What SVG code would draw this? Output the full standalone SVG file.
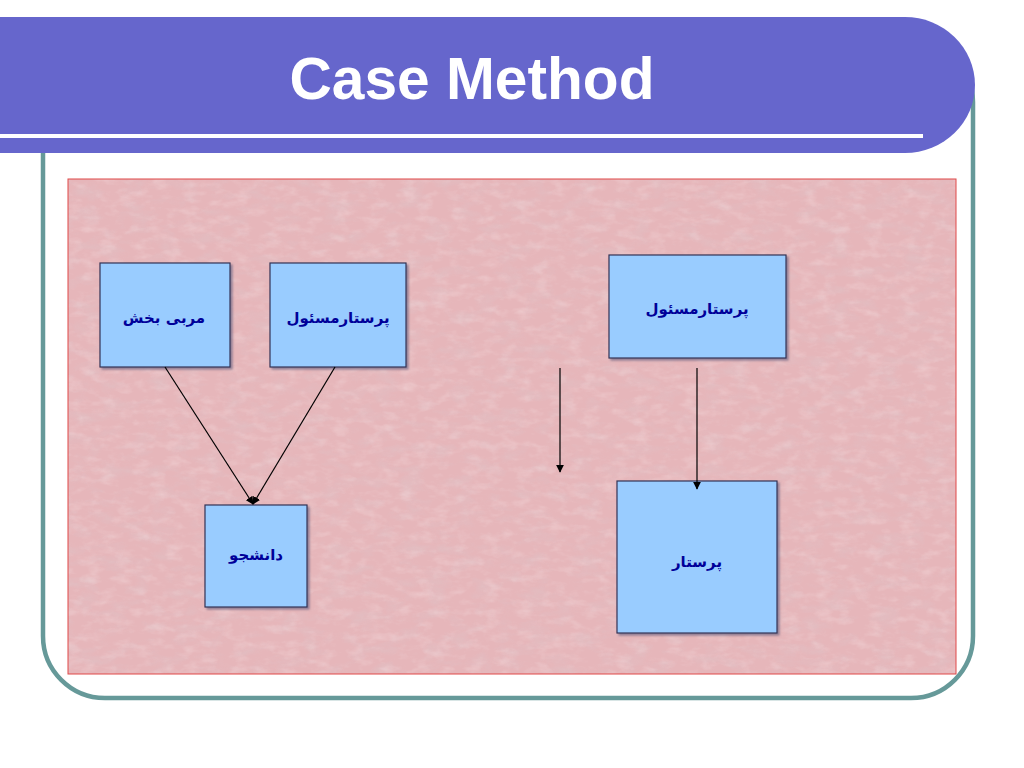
<svg xmlns="http://www.w3.org/2000/svg" width="1024" height="768" viewBox="0 0 1024 768">
<defs>
<style>
.box{fill:#99CCFF;stroke:#333355;stroke-width:1.2}
.lbl{font-family:"DejaVu Sans",sans-serif;font-weight:bold;font-size:15px;fill:#000099;text-anchor:middle}
.conn{stroke:#000;stroke-width:1.2;fill:none;marker-end:url(#ah)}
</style>
<marker id="ah" viewBox="0 0 10 10" refX="9" refY="5" markerWidth="8" markerHeight="8" orient="auto" markerUnits="userSpaceOnUse">
<path d="M0,0 L10,5 L0,10 z" fill="#000"/>
</marker>
<filter id="tex" x="0" y="0" width="100%" height="100%">
<feTurbulence type="fractalNoise" baseFrequency="0.04 0.09" numOctaves="4" seed="4" result="n"/>
<feColorMatrix in="n" type="matrix" values="0 0 0 0 0.74  0 0 0 0 0.55  0 0 0 0 0.58  0 0 0 1.8 -0.8" result="c"/>
<feComposite in="c" in2="SourceGraphic" operator="in"/>
</filter>
<filter id="tex2" x="0" y="0" width="100%" height="100%">
<feTurbulence type="fractalNoise" baseFrequency="0.06 0.12" numOctaves="3" seed="9" result="n"/>
<feColorMatrix in="n" type="matrix" values="0 0 0 0 0.96  0 0 0 0 0.84  0 0 0 0 0.85  0 0 0 1.6 -0.75" result="c"/>
<feComposite in="c" in2="SourceGraphic" operator="in"/>
</filter>
<filter id="sh" x="-10%" y="-10%" width="130%" height="130%">
<feDropShadow dx="2" dy="2" stdDeviation="1" flood-color="#555577" flood-opacity="0.6"/>
</filter>
</defs>
<rect width="1024" height="768" fill="#ffffff"/>
<!-- teal frame -->
<rect x="43" y="40" width="930" height="658" rx="62" ry="62" fill="none" stroke="#669999" stroke-width="4.5"/>
<!-- title bar -->
<path d="M0,17 H905 A70,68 0 0 1 905,153 H0 Z" fill="#6666CC"/>
<rect x="0" y="134" width="923" height="4" fill="#ffffff"/>
<text x="472" y="99" font-family="Liberation Sans, Arial, sans-serif" font-weight="bold" font-size="60" fill="#ffffff" text-anchor="middle" textLength="365" lengthAdjust="spacingAndGlyphs">Case Method</text>
<!-- pink panel -->
<rect x="68" y="179" width="888" height="495" fill="#E6B6BA"/>
<rect x="68" y="179" width="888" height="495" fill="#E6B6BA" filter="url(#tex)" opacity="0.6"/>
<rect x="68" y="179" width="888" height="495" fill="#E6B6BA" filter="url(#tex2)" opacity="0.4"/>
<rect x="68" y="179" width="888" height="495" fill="none" stroke="#E04848" stroke-width="1"/>
<g id="n1"><rect class="box" x="100" y="263" width="130" height="104" filter="url(#sh)"/><text class="lbl" x="164" y="323">مربی بخش</text></g>
<g id="n2"><rect class="box" x="270" y="263" width="136" height="104" filter="url(#sh)"/><text class="lbl" x="338" y="323">پرستارمسئول</text></g>
<g id="n3"><rect class="box" x="205" y="505" width="102" height="102" filter="url(#sh)"/><text class="lbl" x="256" y="560">دانشجو</text></g>
<g id="n4"><rect class="box" x="609" y="255" width="177" height="103" filter="url(#sh)"/><text class="lbl" x="697" y="314">پرستارمسئول</text></g>
<g id="n5"><rect class="box" x="617" y="481" width="160" height="152" filter="url(#sh)"/><text class="lbl" x="697" y="567">پرستار</text></g>
<!-- connectors -->
<g id="connectors">
<line class="conn" x1="165" y1="367" x2="253" y2="504"/>
<line class="conn" x1="335" y1="367" x2="253" y2="504"/>
<line class="conn" x1="560" y1="368" x2="560" y2="472"/>
<line class="conn" x1="697" y1="368" x2="697" y2="489"/>
</g>
</svg>
